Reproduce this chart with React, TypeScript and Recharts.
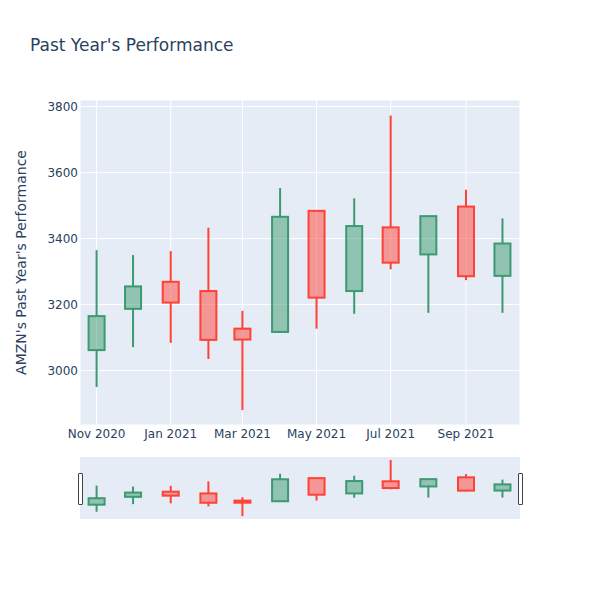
import React from "react";
import { Bar, CartesianGrid, ComposedChart, XAxis, YAxis } from "recharts";

// monthly candles
const months = [
  "2020-11-01", "2020-12-01", "2021-01-01", "2021-02-01", "2021-03-01", "2021-04-01",
  "2021-05-01", "2021-06-01", "2021-07-01", "2021-08-01", "2021-09-01", "2021-10-01",
];
const opens = [3062, 3187, 3269, 3241, 3127, 3117, 3484, 3241, 3434, 3352, 3497, 3287];
const closes = [3165, 3255, 3206, 3093, 3094, 3466, 3221, 3438, 3327, 3468, 3286, 3385];
const highs = [3365, 3350, 3362, 3433, 3181, 3553, 3484, 3522, 3773, 3468, 3548, 3461];
const lows = [2950, 3071, 3084, 3035, 2880, 3117, 3127, 3172, 3307, 3175, 3274, 3175];

const yTicks = [3000, 3200, 3400, 3600, 3800];
const xTickDates = ["2020-11-01", "2021-01-01", "2021-03-01", "2021-05-01", "2021-07-01", "2021-09-01"];

const MONTH_NAMES = ["Jan", "Feb", "Mar", "Apr", "May", "Jun", "Jul", "Aug", "Sep", "Oct", "Nov", "Dec"];

const GREEN = "#3D9970";
const GREEN_FILL = "rgba(61,153,112,0.5)";
const RED = "#FF4136";
const RED_FILL = "rgba(255,65,54,0.5)";
const TEXT = "#2a3f5f";
const BG = "#E5ECF6";
const FONT = '"DejaVu Sans", verdana, arial, sans-serif';

const data = months.map((m, i) => ({
  t: new Date(m).getTime(),
  open: opens[i],
  close: closes[i],
  high: highs[i],
  low: lows[i],
  range: [lows[i], highs[i]],
}));

const xTicks = xTickDates.map((d) => new Date(d).getTime());
const xDomain = [Date.UTC(2020, 9, 18, 8), Date.UTC(2021, 9, 15, 10)];
const yDomain = [2835, 3820];

const fmtMonth = (t: number) => {
  const d = new Date(t);
  return `${MONTH_NAMES[d.getUTCMonth()]} ${d.getUTCFullYear()}`;
};

function Candle(props: any) {
  const { x, y, width, height, payload } = props;
  const { open, close, high, low } = payload;
  const up = close >= open;
  const stroke = up ? GREEN : RED;
  const fill = up ? GREEN_FILL : RED_FILL;
  const k = height / (high - low);
  const py = (v: number) => y + (high - v) * k;
  const cx = x + width / 2;
  const top = py(Math.max(open, close));
  const bottom = py(Math.min(open, close));
  return (
    <g>
      <line x1={cx} x2={cx} y1={py(high)} y2={top} stroke={stroke} strokeWidth={2} />
      <line x1={cx} x2={cx} y1={bottom} y2={py(low)} stroke={stroke} strokeWidth={2} />
      <rect x={cx - 8} y={top} width={16} height={Math.max(bottom - top, 1)} fill={fill} stroke={stroke} strokeWidth={2} />
    </g>
  );
}

function Handle({ left }: { left: number }) {
  return (
    <div
      style={{
        position: "absolute",
        left: left - 2.5,
        top: 473,
        width: 3,
        height: 30,
        background: "#fff",
        border: "1px solid #444",
        borderRadius: 1,
      }}
    />
  );
}

export default function App() {
  return (
    <div style={{ position: "absolute", left: 0, top: 0, width: 600, height: 600, background: "#fff", fontFamily: FONT }}>
      <ComposedChart
        width={600}
        height={460}
        data={data}
        margin={{ top: 100, right: 80, bottom: 5, left: 0 }}
      >
        <CartesianGrid stroke="#fff" strokeWidth={1} fill={BG} fillOpacity={1} />
        <XAxis
          dataKey="t"
          type="number"
          domain={xDomain}
          ticks={xTicks}
          tickFormatter={fmtMonth}
          allowDataOverflow
          axisLine={false}
          tickLine={false}
          tickSize={0}
          tickMargin={4}
          height={30}
          tick={{ fill: TEXT, fontSize: 12, fontFamily: FONT }}
        />
        <YAxis
          type="number"
          domain={yDomain}
          ticks={yTicks}
          allowDataOverflow
          axisLine={false}
          tickLine={false}
          tickSize={0}
          tickMargin={2}
          width={80}
          tick={{ fill: TEXT, fontSize: 12, fontFamily: FONT }}
        />
        <Bar dataKey="range" barSize={16} shape={Candle} isAnimationActive={false} />
      </ComposedChart>

      {/* range slider */}
      <div style={{ position: "absolute", left: 80, top: 457, width: 440, height: 62, background: BG }}>
        <ComposedChart width={440} height={62} data={data} margin={{ top: 0, right: 0, bottom: 0, left: 0 }}>
          <XAxis dataKey="t" type="number" domain={xDomain} allowDataOverflow hide />
          <YAxis type="number" domain={yDomain} allowDataOverflow hide />
          <Bar dataKey="range" barSize={16} shape={Candle} isAnimationActive={false} />
        </ComposedChart>
      </div>
      <Handle left={80} />
      <Handle left={520} />

      <svg width={600} height={600} style={{ position: "absolute", left: 0, top: 0, pointerEvents: "none" }}>
        <text x={30} y={50.5} fontSize={17} fill={TEXT} fontFamily={FONT}>
          Past Year's Performance
        </text>
        <text
          transform="translate(25.5,262.5) rotate(-90)"
          textAnchor="middle"
          fontSize={14}
          fill={TEXT}
          fontFamily={FONT}
        >
          AMZN's Past Year's Performance
        </text>
      </svg>
    </div>
  );
}
